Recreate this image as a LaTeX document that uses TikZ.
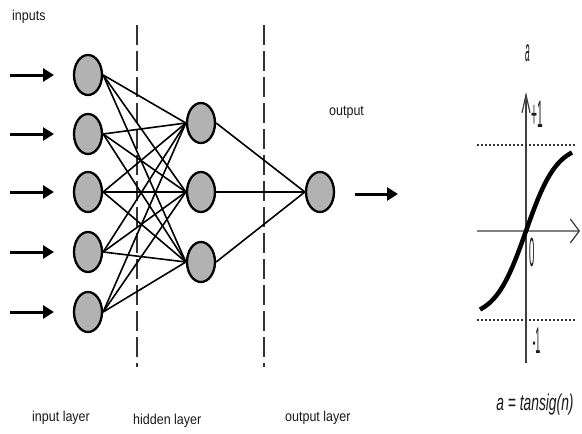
\documentclass[tikz,border=0pt]{standalone}
\usepackage{fontspec}
\usepackage{graphicx}
\setmainfont{Liberation Sans}
\usetikzlibrary{shapes.geometric,arrows.meta}
\definecolor{nfill}{RGB}{178,178,178}
\begin{document}
\begin{tikzpicture}[x=1pt,y=-1pt,
  neuron/.style={ellipse,draw=black,line width=2.3pt,fill=nfill,
    minimum width=28pt,minimum height=40pt,inner sep=0pt},
  link/.style={line width=1.6pt,black},
  feed/.style={line width=3pt,-{Triangle[length=11pt,width=13pt]}},
  layersep/.style={line width=2pt,draw=black!80,dash pattern=on 20pt off 6pt},
  lbl/.style={inner sep=0pt,font=\fontsize{12.5}{14}\selectfont,text=black!90},
  plbl/.style={inner sep=0pt,font=\fontsize{12}{14}\selectfont,text=black!90},
  limit/.style={line width=2pt,black!80,dash pattern=on 2pt off 2pt}]
\useasboundingbox (0,0) rectangle (582,434);

% layer separators
\draw[layersep] (137,25) -- (137,367);
\draw[layersep] (264,25) -- (264,367);

% input layer with its incoming arrows
\foreach \i/\y in {1/75,2/134,3/192,4/252,5/312}{
  \node[neuron] (i\i) at (88,\y) {};
  \coordinate (s\i) at (10,\y);
  \coordinate (t\i) at (54,\y);
  \draw[feed] (s\i) -- (t\i);
}

% hidden layer
\foreach \j/\y in {1/123,2/192,3/262}
  \node[neuron] (h\j) at (201,\y) {};

% output neuron
\node[neuron] (o) at (320,192) {};

% full connections
\foreach \i in {1,...,5}
  \foreach \j in {1,2,3}
    \draw[link] (i\i.east) -- (h\j.west);
\foreach \j in {1,2,3}
  \draw[link] (h\j.east) -- (o.west);

% output arrow
\coordinate (os) at (355,194);
\coordinate (ot) at (398,194);
\draw[feed] (os) -- (ot);

% labels
\node[lbl,anchor=base west] (lin) at (12,20) {\scalebox{1}[1.15]{inputs}};
\node[lbl,anchor=base west] (lout) at (329,115) {\scalebox{1}[1.15]{output}};
\node[lbl,anchor=base west] (l1) at (32,421) {\scalebox{1}[1.15]{input layer}};
\node[lbl,anchor=base west] (l2) at (133,424) {\scalebox{1}[1.15]{hidden layer}};
\node[lbl,anchor=base west] (l3) at (285,421) {\scalebox{1}[1.15]{output layer}};

% tansig transfer function
\coordinate (ybot) at (526,363);
\coordinate (ytop) at (526,92);
\coordinate (xl) at (477,231);
\coordinate (xr) at (580,231);
\draw[line width=2.6pt,black!50,-{Straight Barb[line width=1.2pt,length=9pt,width=24pt,color=black!80]}] (xl) -- (xr);
\draw[line width=1.3pt,black!75,-{Straight Barb[line width=1.2pt,length=18pt,width=8pt]}] (ybot) -- (ytop);
\draw[limit] (477,145) -- (575,145);
\draw[limit] (477,320) -- (575,320);
\draw[line width=4.5pt,black] plot[domain=480:572,samples=60,smooth]
  (\x,{231-87*tanh((\x-526)/31)});

\node[plbl] (pa) at (527.5,53) {\scalebox{0.7}[2.6]{\itshape a}};
\node[plbl] (pp) at (537,114) {\scalebox{0.85}[3.2]{+1}};
\node[plbl] (pz) at (532.5,252) {\scalebox{0.8}[3.4]{0}};
\node[plbl] (pm) at (536.5,341) {\scalebox{0.75}[3.1]{-1}};
\node[plbl] (pf) at (535,405) {\scalebox{1.15}[1.9]{\itshape a = tansig(n)}};
\end{tikzpicture}
\end{document}
